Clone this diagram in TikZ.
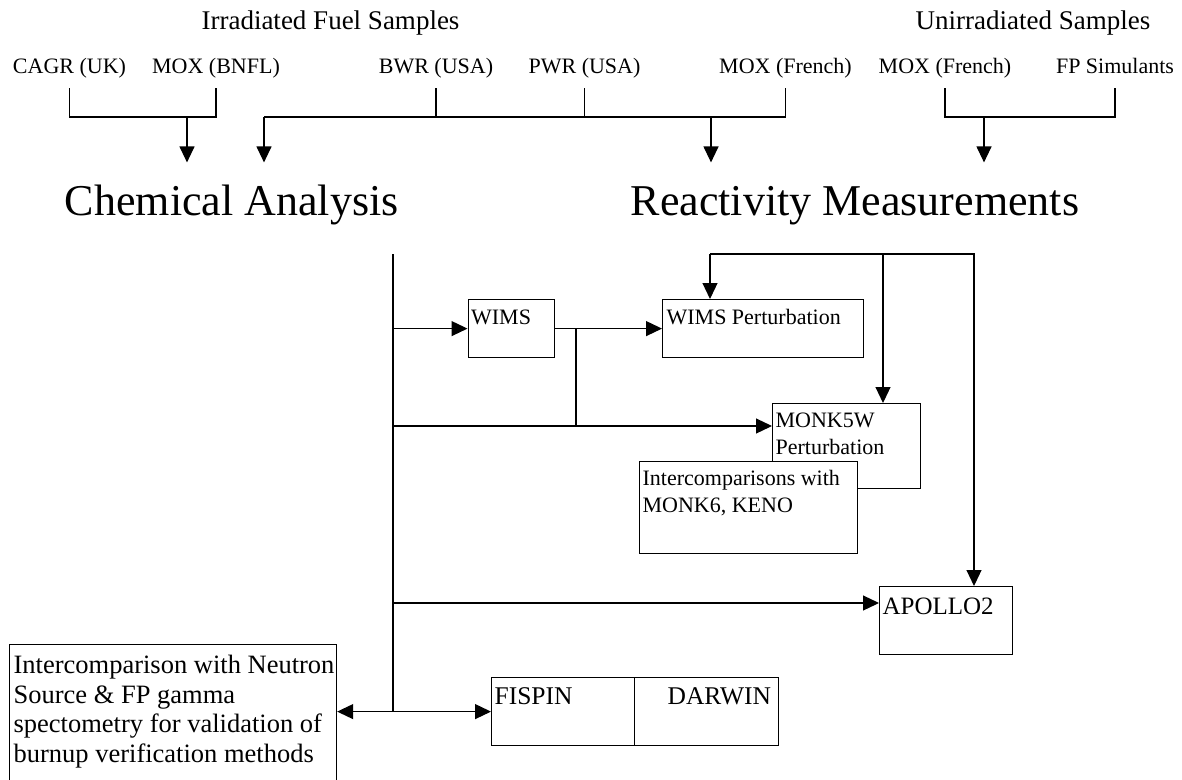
\documentclass[tikz,border=0pt]{standalone}
\usepackage{fontspec}
\setmainfont{Liberation Serif}
\usetikzlibrary{arrows.meta}
\newcommand{\mybox}[7]{\parbox[t][#2][t]{#1}{\fontsize{#3}{#4}\selectfont\raggedright\leftskip=#5\relax\rule{0pt}{#6}#7}}
\begin{document}
\begin{tikzpicture}[x=1pt,y=-1pt,line width=1.2pt,
  hdr/.style={font=\fontsize{27pt}{30pt}\selectfont, anchor=base, inner sep=0pt},
  lbl/.style={font=\fontsize{22pt}{26pt}\selectfont, anchor=base, inner sep=0pt},
  ttl/.style={font=\fontsize{44pt}{50pt}\selectfont, anchor=base, text height=30pt, inner xsep=0pt, inner ysep=22pt},
  bx/.style={draw, fill=white, inner sep=0pt, anchor=north west},
  arr/.style={-{Triangle[width=15pt,length=16pt]}},
  dbl/.style={{Triangle[width=15pt,length=16pt]}-{Triangle[width=15pt,length=16pt]}}]
\useasboundingbox (0,0) rectangle (1182,779);
\begin{scope}
\clip (0,0) rectangle (1182,779);
% headers and sample labels
\node[hdr] (irr) at (330.5,29) {Irradiated Fuel Samples};
\node[hdr] (unirr) at (1033,29) {Unirradiated Samples};
\node[lbl] (cagr) at (69.5,73) {CAGR (UK)};
\node[lbl] (moxb) at (216,73) {MOX (BNFL)};
\node[lbl] (bwr) at (436,73) {BWR (USA)};
\node[lbl] (pwr) at (584.5,73) {PWR (USA)};
\node[lbl] (moxf) at (785.5,73) {MOX (French)};
\node[lbl] (moxu) at (945,73) {MOX (French)};
\node[lbl] (fps) at (1115,73) {FP Simulants};
\node[ttl] (chem) at (231.75,215) {Chemical Analysis};
\node[ttl] (react) at (855,215) {Reactivity Measurements};
% brackets
\coordinate (j1) at (187,117);
\coordinate (j2l) at (264,117);
\coordinate (j2) at (711,117);
\coordinate (j3) at (984,117);
\draw (cagr.base) ++(0,15) |- (j1);
\draw (moxb.base) ++(0,15) |- (j1);
\draw[arr] (j1) -- (j1 |- chem.north);
\draw (moxf.base) ++(0,15) |- (j2l);
\draw[arr] (j2l) -- (j2l |- chem.north);
\draw (bwr.base) ++(0,15) -- (bwr.base |- j2l);
\draw (pwr.base) ++(0,15) -- (pwr.base |- j2l);
\draw[arr] (j2) -- (j2 |- react.north);
\draw (moxu.base) ++(0,15) |- (j3);
\draw (fps.base) ++(0,15) |- (j3);
\draw[arr] (j3) -- (j3 |- react.north);
% boxes
\node[bx] (wims) at (467.5,299) {\mybox{86.5pt}{58pt}{22pt}{27pt}{3pt}{25pt}{WIMS}};
\node[bx] (wimsp) at (662,299) {\mybox{201pt}{58pt}{22pt}{27pt}{4pt}{25pt}{WIMS Perturbation}};
\node[bx] (monk) at (772,403) {\mybox{148pt}{85pt}{22pt}{27pt}{3pt}{24pt}{MONK5W\\Perturbation}};
\node[bx] (inter) at (639,461) {\mybox{218pt}{92pt}{22pt}{27pt}{3pt}{24pt}{Intercomparisons with\\MONK6, KENO}};
\node[bx] (apollo) at (879,586) {\mybox{133pt}{68pt}{25pt}{29pt}{3pt}{28pt}{APOLLO2}};
\node[bx] (burn) at (9,644) {\mybox{327pt}{200pt}{26.5pt}{29.5pt}{4pt}{29pt}{Intercomparison with Neutron\\Source \& FP gamma\\spectometry for validation of\\burnup verification methods}};
\node[bx] (fispin) at (491,677) {\mybox{143pt}{68pt}{25.5pt}{29pt}{3pt}{27pt}{FISPIN}};
\node[bx] (darwin) at (634,677) {\mybox{144pt}{68pt}{25.5pt}{29pt}{33pt}{27pt}{DARWIN}};
% connectors
\coordinate (stop) at (393,254);
\draw (stop) -- (stop |- fispin.west);
\draw[arr] (stop |- wims.west) -- (wims.west);
\draw[arr] (wims.east) -- (wimsp.west);
\coordinate (br) at (576,328);
\coordinate (m5in) at ([yshift=-23pt]monk.north west);
\draw (br) -- (br |- m5in);
\draw[arr] (stop |- m5in) -- (m5in);
\coordinate (wpin) at ([xshift=48pt]wimsp.north west);
\coordinate (m5top) at ([xshift=111pt]monk.north west);
\coordinate (apin) at ([xshift=95pt]apollo.north west);
\coordinate (rt) at (974,254);
\draw[arr] (wpin |- rt) -- (wpin);
\draw[arr] (wpin |- rt) -- (rt) -- (apin);
\draw[arr] (m5top |- rt) -- (m5top);
\coordinate (apw) at ([yshift=-17pt]apollo.north west);
\draw[arr] (stop |- apw) -- (apw);
\draw[dbl] (burn.east |- fispin.west) -- (fispin.west);
\end{scope}
\end{tikzpicture}
\end{document}
